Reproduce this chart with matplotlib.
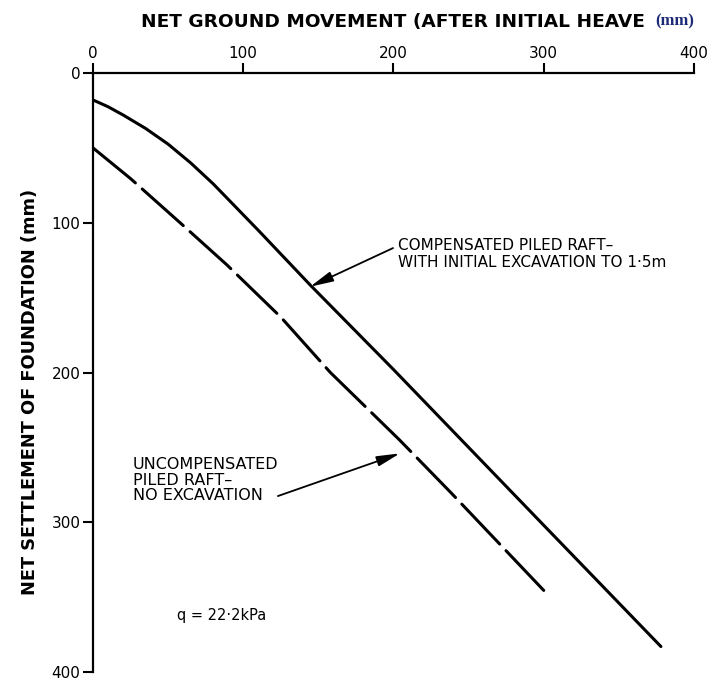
import matplotlib.pyplot as plt

# settlement curves (mm)
comp_x = [0, 10, 20, 35, 50, 65, 80, 95, 110, 145, 200, 250, 300, 378]
comp_y = [18, 22.5, 28, 37, 47.5, 60, 74, 89.5, 105, 142, 198, 250, 302, 383]

uncomp_x = [0, 25, 58, 89, 125, 158, 204, 238, 300]
uncomp_y = [50, 70.5, 100, 128, 163, 200, 245, 280, 345.5]

ticks = [0, 100, 200, 300, 400]

fig = plt.figure(figsize=(7.19, 6.81), dpi=100)
ax = fig.add_axes([0.1293, 0.0132, 0.8359, 0.8796])

ax.plot(comp_x, comp_y, color='black', lw=2.2, solid_capstyle='round', solid_joinstyle='round')
ax.plot(uncomp_x, uncomp_y, color='black', lw=2.2, dashes=(18, 3), dash_capstyle='round')

ax.set_xlim(0, 400)
ax.set_ylim(400, 0)
ax.set_xticks(ticks)
ax.set_yticks(ticks)
ax.xaxis.tick_top()
for s in ['right', 'bottom']:
    ax.spines[s].set_visible(False)
for s in ['top', 'left']:
    ax.spines[s].set_linewidth(1.6)
ax.tick_params(direction='out', length=7, width=1.5, labelsize=11, pad=2)

fig.text(0.196, 0.968, 'NET GROUND MOVEMENT (AFTER INITIAL HEAVE', fontsize=13.3,
         fontweight='bold', ha='left', va='center')
fig.text(0.912, 0.968, '(mm)', fontsize=12, fontweight='bold', family='Liberation Serif',
         color='#1c2a78', ha='left', va='center')
fig.text(0.042, 0.425, 'NET SETTLEMENT OF FOUNDATION (mm)', fontsize=12.8, fontweight='bold',
         rotation=90, ha='center', va='center')

ax.text(203, 120.8, 'COMPENSATED PILED RAFT\u2013\nWITH INITIAL EXCAVATION TO 1\u00b75m',
        fontsize=11, ha='left', va='center', linespacing=1.15)
ax.annotate('', xy=(144.5, 142.7), xytext=(199.7, 116.9),
            arrowprops=dict(arrowstyle='-|>,head_length=1.0,head_width=0.22', lw=1.3,
                            color='black', shrinkA=0, shrinkB=0, mutation_scale=14))

ax.text(26.6, 271.8, 'UNCOMPENSATED\nPILED RAFT\u2013\nNO EXCAVATION',
        fontsize=11.5, ha='left', va='center', linespacing=1.05)
ax.annotate('', xy=(204.3, 254), xytext=(123.1, 282.5),
            arrowprops=dict(arrowstyle='-|>,head_length=1.0,head_width=0.22', lw=1.3,
                            color='black', shrinkA=0, shrinkB=0, mutation_scale=14))

ax.text(55.9, 362, 'q = 22\u00b72kPa', fontsize=10.5, ha='left', va='center')

fig.savefig('out.png', dpi=100)
